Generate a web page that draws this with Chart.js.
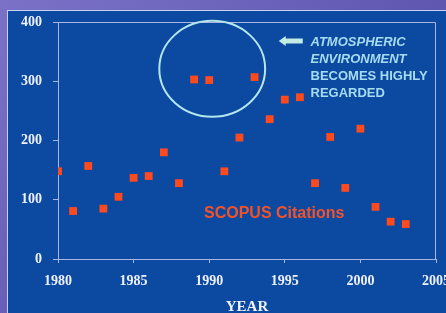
<!DOCTYPE html>
<html>
<head>
<meta charset="utf-8">
<script src="https://cdn.jsdelivr.net/npm/chart.js@4"></script>
<style>
  html, body { margin: 0; padding: 0; }
  body {
    width: 446px; height: 313px; overflow: hidden; position: relative;
    background: linear-gradient(135deg, #7b72c8 0%, #5f56b0 60%, #5a52aa 100%);
  }
  #panel {
    position: absolute; left: 7px; top: 10px; right: 0; bottom: 0;
    background: #0c4aa2;
    border-top: 1px solid #c9d2f2; border-left: 1px solid #c9d2f2;
  }
  #wrap { position: absolute; left: 0; top: 0; width: 446px; height: 313px; }
</style>
</head>
<body>
<div id="panel"></div>
<div id="wrap"><canvas id="chart" width="446" height="313"></canvas></div>
<script>
const years = [1980, 1981, 1982, 1983, 1984, 1985, 1986, 1987, 1988, 1989, 1990, 1991,
  1992, 1993, 1994, 1995, 1996, 1997, 1998, 1999, 2000, 2001, 2002, 2003];
const citations = [148, 81, 157, 85, 105, 137, 140, 180, 128, 303, 302, 148,
  205, 307, 236, 269, 273, 128, 206, 120, 220, 88, 63, 59];
const noteLines = ['ATMOSPHERIC', 'ENVIRONMENT', 'BECOMES HIGHLY', 'REGARDED'];
const seriesLabel = 'SCOPUS Citations';
const axisTitle = 'YEAR';

const lineColor = '#a9b6e4';
const tickFont = { family: 'Liberation Serif', weight: 'bold', size: 14 };

// frame around the plot plus the circle, arrow and notes
const annotations = {
  id: 'annotations',
  afterDatasetsDraw(chart) {
    const { ctx, chartArea: a, scales: { x, y } } = chart;
    ctx.save();
    ctx.strokeStyle = lineColor;
    ctx.lineWidth = 1;
    ctx.beginPath();
    ctx.moveTo(a.left, a.top + 0.5);
    ctx.lineTo(a.right - 0.5, a.top + 0.5);
    ctx.lineTo(a.right - 0.5, a.bottom);
    ctx.stroke();

    // ellipse round the 1989-1993 peak
    const cx = x.getPixelForValue(1990.2), cy = y.getPixelForValue(321);
    const rx = x.getPixelForValue(1993.7) - cx, ry = cy - y.getPixelForValue(402);
    ctx.strokeStyle = '#b4e6ee';
    ctx.lineWidth = 2;
    ctx.beginPath();
    ctx.ellipse(cx, cy, rx, ry, 0, 0, Math.PI * 2);
    ctx.stroke();

    // arrow pointing at the circle
    const ax = x.getPixelForValue(1994.6), ay = y.getPixelForValue(368);
    ctx.fillStyle = '#c4ece2';
    ctx.beginPath();
    ctx.moveTo(ax, ay);
    ctx.lineTo(ax + 7, ay - 5);
    ctx.lineTo(ax + 7, ay - 2.5);
    ctx.lineTo(ax + 24, ay - 2.5);
    ctx.lineTo(ax + 24, ay + 2.5);
    ctx.lineTo(ax + 7, ay + 2.5);
    ctx.lineTo(ax + 7, ay + 5);
    ctx.closePath();
    ctx.fill();

    ctx.fillStyle = '#a6dcf2';
    ctx.textBaseline = 'middle';
    ctx.textAlign = 'left';
    const tx = x.getPixelForValue(1996.7);
    noteLines.forEach((t, i) => {
      ctx.font = (i < 2 ? 'italic ' : '') + 'bold 13px "Liberation Sans"';
      ctx.fillText(t, tx, y.getPixelForValue(368) + 1 + i * 17);
    });

    ctx.fillStyle = '#f2522a';
    ctx.font = 'bold 16px "Liberation Sans"';
    ctx.textAlign = 'center';
    ctx.fillText(seriesLabel, x.getPixelForValue(1994.3), y.getPixelForValue(76));
    ctx.restore();
  }
};

new Chart(document.getElementById('chart'), {
  type: 'scatter',
  data: {
    datasets: [{
      label: seriesLabel,
      data: years.map((yr, i) => ({ x: yr, y: citations[i] })),
      pointStyle: 'rect',
      pointRadius: 5.5,
      pointHoverRadius: 5.5,
      borderWidth: 0,
      backgroundColor: '#ff4a1e'
    }]
  },
  options: {
    responsive: false,
    animation: false,
    events: [],
    layout: { padding: { left: 0, top: 22, right: 10, bottom: 0 } },
    plugins: { legend: { display: false }, tooltip: { enabled: false } },
    scales: {
      x: {
        type: 'linear', min: 1980, max: 2005,
        ticks: { stepSize: 5, color: '#eef1fb', font: tickFont, padding: 10, maxRotation: 0,
          callback: v => String(v) },
        grid: { drawOnChartArea: false, drawTicks: true, tickLength: 4, color: lineColor },
        border: { display: true, color: lineColor, width: 1 },
        title: { display: true, text: axisTitle, color: '#eef1fb',
          font: { family: 'Liberation Serif', weight: 'bold', size: 15 }, padding: { top: 8, bottom: -3 } },
        afterFit: s => { s.height = 54; s.paddingLeft = 0; s.paddingRight = 0; }
      },
      y: {
        min: 0, max: 400,
        ticks: { stepSize: 100, color: '#eef1fb', font: tickFont, padding: 11 },
        grid: { drawOnChartArea: false, drawTicks: true, tickLength: 5, color: lineColor },
        border: { display: true, color: lineColor, width: 1 },
        afterFit: s => { s.width = 58; }
      }
    }
  },
  plugins: [annotations]
});
</script>
</body>
</html>
